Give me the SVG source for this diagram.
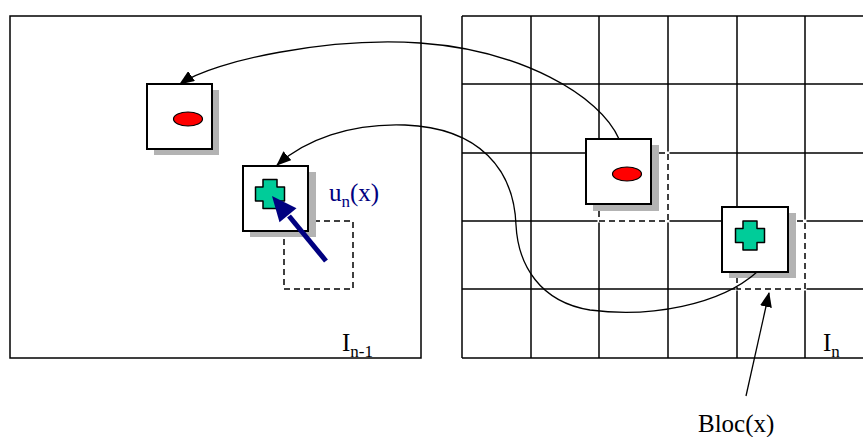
<svg xmlns="http://www.w3.org/2000/svg" width="863" height="437" viewBox="0 0 863 437">
<style>
.panel{fill:none;stroke:#000;stroke-width:1.5}
.grid{stroke:#000;stroke-width:1.5;fill:none}
.shadow{fill:#b3b3b3}
.box{fill:#fff;stroke:#000;stroke-width:2}
.red{fill:#ff0000;stroke:#000;stroke-width:1.2}
.cross{fill:#00cc99;stroke:#000;stroke-width:1.5;stroke-linejoin:round}
.dash{fill:none;stroke:#000;stroke-width:1.5;stroke-dasharray:6,4}
.halo{fill:none;stroke:#fff;stroke-width:3}
.curve{fill:none;stroke:#000;stroke-width:1.3}
text{font-family:"Liberation Serif","Times New Roman",serif;font-size:25px;fill:#000}
.blue{fill:#000080}
</style>
<defs>
<marker id="ah" markerUnits="userSpaceOnUse" markerWidth="16" markerHeight="12" refX="14" refY="6" orient="auto">
<path d="M0,0 L15,6 L0,12 z" fill="#000"/>
</marker>
<path id="crossShape" d="M-7,-14.5 h14 v7.5 h7.5 v14 h-7.5 v7.5 h-14 v-7.5 h-7.5 v-14 h7.5 z"/>
</defs>
<rect width="863" height="437" fill="#fff"/>

<g id="panel-In-1">
<rect class="panel" x="10" y="16" width="411" height="342"/>
</g>

<g id="panel-In">
<line class="grid" x1="462" y1="16" x2="863" y2="16"/>
<line class="grid" x1="462" y1="84" x2="863" y2="84"/>
<line class="grid" x1="462" y1="153" x2="863" y2="153"/>
<line class="grid" x1="462" y1="221" x2="863" y2="221"/>
<line class="grid" x1="462" y1="289" x2="863" y2="289"/>
<line class="grid" x1="462" y1="358" x2="863" y2="358"/>
<line class="grid" x1="462" y1="16" x2="462" y2="358"/>
<line class="grid" x1="531" y1="16" x2="531" y2="358"/>
<line class="grid" x1="599" y1="16" x2="599" y2="358"/>
<line class="grid" x1="668" y1="16" x2="668" y2="358"/>
<line class="grid" x1="737" y1="16" x2="737" y2="358"/>
<line class="grid" x1="805" y1="16" x2="805" y2="358"/>
</g>

<g id="block-red-n">
<rect class="halo" x="599" y="153" width="69" height="68"/>
<rect class="dash" x="599" y="153" width="69" height="68"/>
<rect class="shadow" x="593" y="145" width="66" height="66"/>
<rect class="box" x="586" y="139" width="65" height="65"/>
<ellipse class="red" cx="627" cy="174" rx="14.5" ry="7"/>
</g>

<g id="block-green-n">
<rect class="halo" x="737" y="221" width="68" height="68"/>
<rect class="dash" x="737" y="221" width="68" height="68"/>
<rect class="shadow" x="729" y="213" width="67" height="65"/>
<rect class="box" x="722" y="207" width="66" height="65"/>
<use href="#crossShape" class="cross" x="750" y="235.5"/>
</g>

<g id="block-red-n1">
<rect class="shadow" x="154" y="90" width="65" height="65"/>
<rect class="box" x="147" y="84" width="65" height="65"/>
<ellipse class="red" cx="188" cy="119" rx="14.5" ry="7"/>
</g>

<g id="block-green-n1">
<rect class="dash" x="284" y="221" width="69" height="68"/>
<rect class="shadow" x="250" y="172" width="66" height="65"/>
<rect class="box" x="243" y="166" width="65" height="65"/>
<use href="#crossShape" class="cross" x="270" y="194"/>
</g>

<g id="connectors">
<path class="curve" marker-end="url(#ah)" d="M619,139 C600,95 520,50 420,43 C330,37 215,60 180,84"/>
<path class="curve" marker-end="url(#ah)" d="M757,272 C720,305 650,318 590,310 C540,302 518,265 516,225 C514,170 480,128 405,125 C350,123 305,140 277,165"/>
<line x1="326" y1="261" x2="289" y2="216" stroke="#000080" stroke-width="5"/>
<polygon points="272,196 296.5,208.2 279.5,222.2" fill="#000080"/>
<line class="curve" marker-end="url(#ah)" x1="746" y1="396" x2="769" y2="293"/>
</g>

<g id="labels">
<text class="blue" x="329" y="201">u<tspan font-size="17" dy="6">n</tspan><tspan dy="-6">(x)</tspan></text>
<text x="342" y="351">I<tspan font-size="17" dy="6">n-1</tspan></text>
<text x="823" y="351">I<tspan font-size="17" dy="6">n</tspan></text>
<text x="698" y="432">Bloc(x)</text>
</g>
</svg>
